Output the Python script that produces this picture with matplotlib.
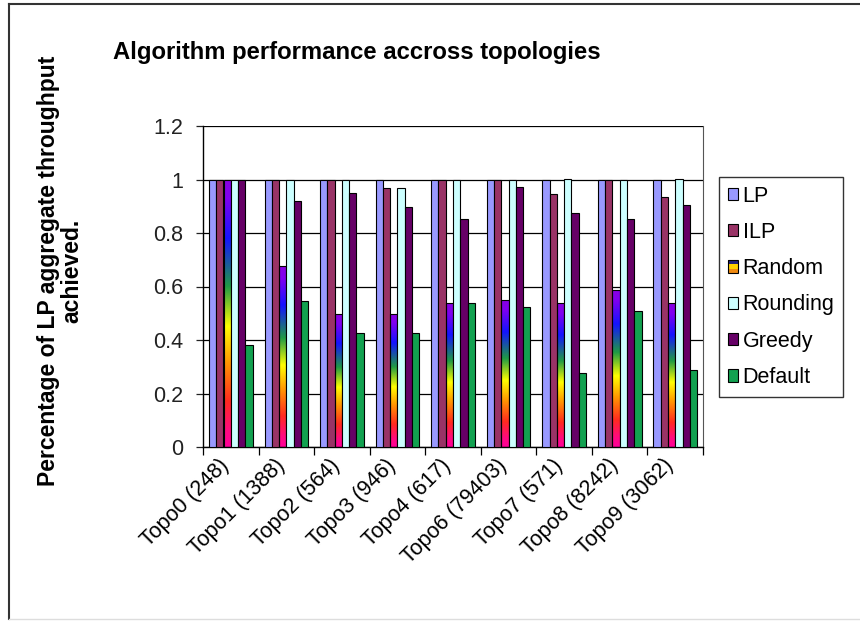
import numpy as np
import matplotlib
matplotlib.use("Agg")
import matplotlib.pyplot as plt
import matplotlib.transforms as mtransforms
from matplotlib.colors import LinearSegmentedColormap
from matplotlib.patches import Rectangle
from matplotlib.legend_handler import HandlerBase
from matplotlib.lines import Line2D

plt.rcParams['font.family'] = ['Liberation Sans', 'DejaVu Sans']

categories = ["Topo0 (248)", "Topo1 (1388)", "Topo2 (564)", "Topo3 (946)", "Topo4 (617)",
              "Topo6 (79403)", "Topo7 (571)", "Topo8 (8242)", "Topo9 (3062)"]
series_names = ["LP", "ILP", "Random", "Rounding", "Greedy", "Default"]

lp       = [1.00, 1.00, 1.00, 1.00, 1.00, 1.00, 1.00, 1.00, 1.00]
ilp      = [1.00, 1.00, 1.00, 0.97, 1.00, 1.00, 0.944, 1.00, 0.936]
random_  = [1.00, 0.678, 0.496, 0.498, 0.538, 0.550, 0.538, 0.587, 0.538]
rounding = [1.00, 1.00, 1.00, 0.969, 1.00, 1.00, 1.003, 1.00, 1.003]
greedy   = [1.00, 0.919, 0.948, 0.898, 0.854, 0.971, 0.876, 0.854, 0.903]
default  = [0.383, 0.544, 0.427, 0.427, 0.538, 0.523, 0.275, 0.510, 0.287]

series_values = [lp, ilp, random_, rounding, greedy, default]
series_colors = ["#9999ff", "#993366", None, "#ccffff", "#660066", "#12a150"]

# vertical rainbow fill used for the Random series (bottom -> top)
rainbow = LinearSegmentedColormap.from_list(
    "rainbow_fill",
    [(0.00, "#ff0099"), (0.06, "#ff0a80"), (0.17, "#ff2a20"), (0.32, "#ff9a00"),
     (0.45, "#ffff00"), (0.60, "#1f9a45"), (0.78, "#1414ff"), (0.93, "#8000f0"),
     (1.00, "#8a00e0")])

fig = plt.figure(figsize=(8.6, 6.23), dpi=100)
fig.patch.set_facecolor("white")
ax = fig.add_axes([203 / 860, 1 - 447 / 623, 500 / 860, 321 / 623])

n_series = len(series_values)
bar_w = 0.131
x = np.arange(len(categories))
offsets = (np.arange(n_series) - (n_series - 1) / 2) * bar_w

gradient = np.linspace(1, 0, 256).reshape(-1, 1)
for i, (name, vals, col) in enumerate(zip(series_names, series_values, series_colors)):
    if col is None:
        bars = ax.bar(x + offsets[i], vals, bar_w, facecolor="none",
                      edgecolor="black", linewidth=0.8, zorder=3, label=name)
        for p in bars.patches:
            x0, w, h = p.get_x(), p.get_width(), p.get_height()
            im = ax.imshow(gradient, cmap=rainbow, vmin=0, vmax=1, aspect="auto",
                           extent=[x0, x0 + w, 0, h], zorder=2.5,
                           interpolation="bilinear")
            im.set_clip_path(p)
    else:
        ax.bar(x + offsets[i], vals, bar_w, color=col, edgecolor="black",
               linewidth=0.8, zorder=3, label=name)

ax.set_xlim(-0.5, len(categories) - 0.5)
ax.set_ylim(0, 1.2)
ax.set_yticks(np.arange(0, 1.21, 0.2))
ax.set_yticklabels(["0", "0.2", "0.4", "0.6", "0.8", "1", "1.2"], fontsize=15.5)
ax.yaxis.grid(True, color="black", linewidth=0.9)
ax.set_axisbelow(True)
ax.tick_params(axis="y", direction="out", length=5, width=0.9, pad=9, colors="#222222")

ax.set_xticks(x)
ax.set_xticklabels(categories, rotation=45, ha="right", va="center",
                   rotation_mode="anchor", fontsize=15.5)
ax.tick_params(axis="x", length=0, pad=11)
shift = mtransforms.ScaledTranslation(-5 / 100, 0, fig.dpi_scale_trans)
for lbl in ax.get_xticklabels():
    lbl.set_transform(lbl.get_transform() + shift)
ax.set_xticks(np.arange(-0.5, len(categories), 1.0), minor=True)
ax.tick_params(axis="x", which="minor", direction="out", length=6, width=0.9)

for s in ["left", "bottom"]:
    ax.spines[s].set_linewidth(1.0)
    ax.spines[s].set_color("black")
ax.spines["top"].set_visible(False)
ax.spines["right"].set_color("#555555")
ax.spines["right"].set_linewidth(0.8)

fig.text(357 / 860, 1 - 52 / 623, "Algorithm performance accross topologies",
         ha="center", va="center", fontsize=17.2, fontweight="bold")
fig.text(60 / 860, 1 - 271 / 623, "Percentage of LP aggregate throughput\nachieved.",
         rotation=90, ha="center", va="center", fontsize=16.5, fontweight="bold",
         multialignment="center", linespacing=1.0)


class StripeHandler(HandlerBase):
    def create_artists(self, legend, orig_handle, xdescent, ydescent, width, height,
                       fontsize, trans):
        cols = ["#f08a10", "#ffd000", "#22227a"]
        arts = []
        for k, c in enumerate(cols):
            arts.append(Rectangle((-xdescent, -ydescent + k * height / 3), width, height / 3,
                                  facecolor=c, edgecolor="none", transform=trans))
        arts.append(Rectangle((-xdescent, -ydescent), width, height, facecolor="none",
                              edgecolor="black", linewidth=0.8, transform=trans))
        return arts


handles = []
for name, col in zip(series_names, series_colors):
    if col is None:
        handles.append(Rectangle((0, 0), 1, 1, facecolor="orange", edgecolor="black"))
    else:
        handles.append(Rectangle((0, 0), 1, 1, facecolor=col, edgecolor="black",
                                 linewidth=0.8))

leg = fig.legend(handles, series_names, loc="upper left",
                 bbox_to_anchor=(719 / 860, 1 - 177 / 623), bbox_transform=fig.transFigure,
                 fontsize=15.5, frameon=True, fancybox=False, edgecolor="black",
                 handlelength=0.5, handleheight=0.5, handletextpad=0.2,
                 labelspacing=0.71, borderpad=0.4, borderaxespad=0,
                 handler_map={handles[2]: StripeHandler()})
leg.get_frame().set_linewidth(1.0)

# outer chart border
fig.add_artist(Line2D([8.5 / 860, 8.5 / 860], [1 - 4 / 623, 1 - 619 / 623],
                      transform=fig.transFigure, color="#333333", linewidth=1.5))
fig.add_artist(Line2D([8.5 / 860, 1.0], [1 - 4 / 623, 1 - 4 / 623],
                      transform=fig.transFigure, color="#333333", linewidth=1.5))
fig.add_artist(Line2D([8.5 / 860, 1.0], [1 - 619 / 623, 1 - 619 / 623],
                      transform=fig.transFigure, color="#dddddd", linewidth=1.0))

fig.savefig("out.png", dpi=100, facecolor="white")
